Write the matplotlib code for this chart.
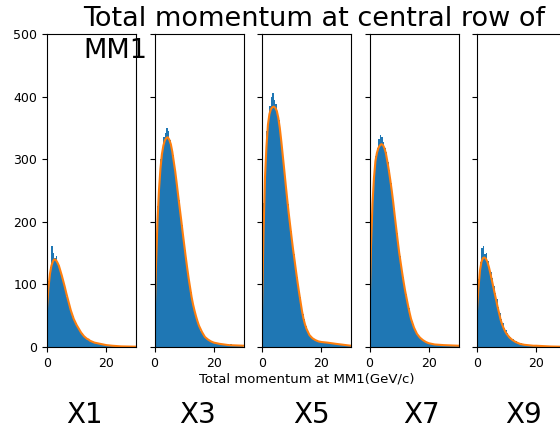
import numpy as np
import matplotlib
matplotlib.use('Agg')
import matplotlib.pyplot as plt

# panel names
names = ['X1', 'X3', 'X5', 'X7', 'X9']

# histogram bins: 0..30 GeV/c, 0.5 wide
edges = np.arange(0, 30.5, 0.5)

counts_x1 = [70, 105, 128, 162, 150, 142, 146, 133, 128, 118, 108, 100, 92, 80, 73, 63, 55, 49, 42, 38,
             33, 29, 25, 22, 19, 16, 15, 12, 11, 10, 9, 8, 7, 6, 6, 5, 5, 4, 4, 3,
             3, 3, 2, 2, 2, 2, 2, 2, 1, 1, 1, 2, 1, 1, 1, 1, 1, 1, 1, 1]
counts_x3 = [75, 160, 225, 270, 300, 318, 335, 342, 350, 345, 330, 322, 306, 285, 272, 250, 235, 212, 195, 172,
             155, 134, 118, 101, 88, 74, 63, 54, 45, 38, 32, 26, 22, 18, 15, 13, 11, 10, 9, 8,
             7, 7, 6, 6, 5, 5, 5, 4, 4, 4, 3, 4, 3, 3, 3, 2, 3, 2, 2, 2]
counts_x5 = [110, 230, 300, 345, 365, 385, 400, 405, 395, 388, 372, 362, 340, 318, 298, 272, 250, 228, 205, 186,
             165, 148, 130, 112, 96, 80, 66, 52, 44, 34, 27, 22, 18, 15, 13, 12, 10, 10, 9, 8,
             8, 7, 8, 7, 6, 7, 6, 6, 5, 5, 5, 4, 4, 4, 3, 3, 3, 2, 2, 2]
counts_x7 = [85, 185, 245, 282, 305, 318, 332, 338, 336, 328, 318, 312, 296, 282, 262, 246, 222, 202, 182, 162,
             145, 128, 112, 98, 85, 72, 62, 50, 42, 36, 28, 24, 20, 16, 13, 11, 10, 8, 7, 6,
             6, 5, 5, 4, 4, 4, 4, 3, 3, 3, 3, 3, 2, 3, 2, 2, 2, 2, 2, 2]
counts_x9 = [65, 108, 135, 158, 162, 148, 150, 138, 128, 120, 110, 98, 86, 76, 64, 55, 45, 38, 31, 27,
             23, 18, 16, 13, 12, 10, 9, 7, 6, 6, 5, 4, 4, 3, 3, 3, 2, 2, 2, 2,
             2, 1, 1, 1, 1, 1, 1, 1, 1, 1, 1, 1, 2, 1, 0, 1, 0, 0, 0, 0]

fit_x = [0, 0.5, 1, 1.5, 2, 2.5, 3, 3.5, 4, 4.5, 5, 5.5, 6, 6.5, 7, 7.5, 8, 8.5, 9, 9.5,
         10, 10.5, 11, 11.5, 12, 12.5, 13, 13.5, 14, 14.5, 15, 16, 17, 18, 19, 20, 22, 25, 30]
fit_x1 = [62, 95, 117, 130, 137, 140, 139, 135, 130, 122, 114, 105, 96, 86, 77, 68, 59, 52, 45, 40,
          35, 31, 27, 23, 20, 17, 15, 13, 12, 10, 9, 7, 6, 5, 4, 3, 2, 1, 0.5]
fit_x3 = [40, 130, 200, 250, 285, 308, 322, 330, 334, 335, 331, 324, 312, 296, 280, 261, 241, 222, 203, 183,
          164, 145, 127, 110, 95, 80, 68, 58, 49, 41, 34, 24, 16, 12, 9, 7, 5, 3, 2]
fit_x5 = [59, 180, 270, 320, 355, 372, 380, 383, 384, 382, 377, 366, 350, 329, 306, 283, 259, 236, 214, 194,
          174, 155, 138, 120, 103, 87, 72, 57, 45, 36, 29, 19, 14, 11, 9, 8, 7, 5, 2]
fit_x7 = [53, 160, 228, 270, 297, 310, 318, 322, 324, 323, 318, 310, 297, 283, 267, 250, 231, 210, 190, 170,
          151, 135, 119, 104, 90, 78, 66, 55, 45, 38, 31, 21, 15, 11, 8, 6, 4, 3, 2]
fit_x9 = [59, 95, 122, 136, 142, 143, 141, 136, 128, 118, 107, 96, 85, 74, 63, 53, 43, 36, 30, 25,
          21, 18, 15, 13, 11, 9.5, 8, 7, 6, 5, 4.5, 3.5, 3, 2.5, 2, 2, 1.5, 0.8, 0.3]

all_counts = [counts_x1, counts_x3, counts_x5, counts_x7, counts_x9]
all_fits = [fit_x1, fit_x3, fit_x5, fit_x7, fit_x9]
label_cx = [84, 198, 311, 421, 524]   # pixel centres of the big labels

W, H = 560, 437
fig = plt.figure(figsize=(W / 100, H / 100), dpi=100)

axes = []
for i in range(5):
    left = 47 + 107.5 * i
    ax = fig.add_axes([left / W, 90 / H, 89 / W, 313 / H],
                      sharey=axes[0] if axes else None)
    ax.hist(edges[:-1], bins=edges, weights=all_counts[i], color='C0')
    ax.plot(fit_x, all_fits[i], color='C1', lw=1.5)
    ax.set_xlim(0, 30)
    ax.set_ylim(0, 500)
    ax.set_xticks([0, 20])
    ax.set_yticks([0, 100, 200, 300, 400, 500])
    ax.tick_params(labelsize=9)
    if i > 0:
        ax.tick_params(labelleft=False)
    axes.append(ax)

axes[2].set_xlabel('Total momentum at MM1(GeV/c)', fontsize=9.5, labelpad=2)

fig.text(83 / W, 1 - 6 / H, 'Total momentum at central row of\nMM1',
         ha='left', va='top', fontsize=19.5, linespacing=1.3)

for name, cx in zip(names, label_cx):
    fig.text(cx / W, (H - 423) / H, name, ha='center', va='baseline', fontsize=20)

fig.savefig('out.png', dpi=100)
